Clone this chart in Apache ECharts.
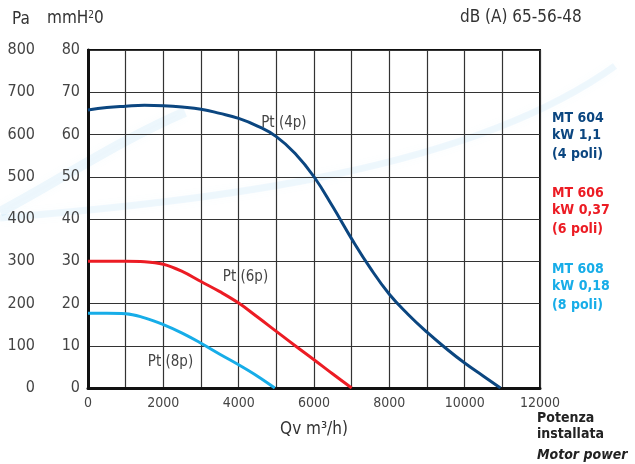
<!DOCTYPE html>
<html><head><meta charset="utf-8">
<script src="https://cdn.jsdelivr.net/npm/echarts@6/dist/echarts.min.js"></script>
<style>html,body{margin:0;padding:0;background:#fff}#c{width:635px;height:464px}</style>
</head><body><div id="c"></div>
<script>
const FONT = "'Liberation Sans Narrow','DejaVu Sans Condensed','Roboto',sans-serif";
const xTicks = [0, 2000, 4000, 6000, 8000, 10000, 12000];
const mmTicks = [0, 10, 20, 30, 40, 50, 60, 70, 80];
const paTicks = [0, 100, 200, 300, 400, 500, 600, 700, 800];

const q4p = [0,500,1000,1500,2000,2500,3000,3500,4000,4500,5000,5500,6000,6500,7000,7500,8000,8500,9000,9500,10000,10500,10950];
const p4p = [65.8,66.4,66.7,66.9,66.8,66.5,66.0,65.0,63.8,62.0,59.5,55.5,50.0,42.9,35.3,28.3,22.2,17.4,13.2,9.4,5.9,2.8,0];
const q6p = [0,500,1000,1500,2000,2500,3000,3500,4000,4500,5000,5500,6000,6500,7000];
const p6p = [30,30,30,29.9,29.3,27.6,25.2,22.8,20.1,16.8,13.4,10.0,6.7,3.3,0];
const q8p = [0,500,1000,1500,2000,2500,3000,3500,4000,4500,4960];
const p8p = [17.7,17.7,17.6,16.6,15.0,13.0,10.6,8.0,5.5,2.8,0];

const colors = {p4:'#0b4680', p6:'#ec1c24', p8:'#17ade8'};
const pairs = (xs, ys) => xs.map((x,i)=>[x, ys[i]]);

const chart = echarts.init(document.getElementById('c'), null, {renderer:'canvas'});
const txt = (t, x, y, o) => ({type:'text', left:x, top:y, style:Object.assign({text:t, font:'16px '+FONT, fill:'#333'}, o||{})});
const bold = (t, x, y, c, extra) => txt(t, x, y, Object.assign({font:'bold 14px '+FONT, fill:c}, extra||{}));
const ptLabel = t => ({show:true, formatter:t, fontFamily:FONT, fontSize:15, color:'#444', position:'inside'});

chart.setOption({
  animation:false,
  backgroundColor:'#fff',
  grid:{left:88, right:95, top:50, bottom:76, show:true, borderColor:'#111', borderWidth:2, backgroundColor:'transparent'},
  xAxis:{type:'value', min:0, max:12000, interval:1000,
    name:'Qv m\u00B3/h)', nameLocation:'middle', nameGap:33,
    nameTextStyle:{fontFamily:FONT, fontSize:17, color:'#333'},
    axisLine:{show:true, lineStyle:{color:'#111', width:3}},
    axisTick:{show:false},
    axisLabel:{fontFamily:FONT, fontSize:14, color:'#444', margin:8,
      formatter:v => xTicks.includes(v) ? String(v) : ''},
    splitLine:{show:true, lineStyle:{color:'#333', width:1.2}}},
  yAxis:[
    {type:'value', min:0, max:80, interval:10, position:'left',
     axisLine:{show:true, lineStyle:{color:'#111', width:3}}, axisTick:{show:false},
     axisLabel:{fontFamily:FONT, fontSize:16, color:'#444', margin:8,
       formatter:v => mmTicks.includes(v) ? String(v) : ''},
     splitLine:{show:true, lineStyle:{color:'#333', width:1.2}}},
    {type:'value', min:0, max:800, interval:100, position:'left', offset:45,
     axisLine:{show:false}, axisTick:{show:false}, splitLine:{show:false},
     axisLabel:{fontFamily:FONT, fontSize:16, color:'#444', margin:8,
       formatter:v => paTicks.includes(v) ? String(v) : ''}}
  ],
  series:[
    {type:'line', data:pairs(q4p,p4p), smooth:0.45, symbol:'none', z:5,
     lineStyle:{color:colors.p4, width:3},
     markPoint:{symbol:'rect', symbolSize:0, data:[{coord:[5200,62.7], label:ptLabel('Pt (4p)')}]}},
    {type:'line', data:pairs(q6p,p6p), smooth:0.4, symbol:'none', z:5,
     lineStyle:{color:colors.p6, width:3},
     markPoint:{symbol:'rect', symbolSize:0, data:[{coord:[4180,26.3], label:ptLabel('Pt (6p)')}]}},
    {type:'line', data:pairs(q8p,p8p), smooth:0.4, symbol:'none', z:5,
     lineStyle:{color:colors.p8, width:3},
     markPoint:{symbol:'rect', symbolSize:0, data:[{coord:[2190,6.2], label:ptLabel('Pt (8p)')}]}}
  ],
  graphic:[
    {type:'bezierCurve', z:-1, silent:true, shape:{x1:0,y1:218,x2:615,y2:66,cpx1:220,cpy1:200,cpx2:470,cpy2:170},
     style:{stroke:'rgba(140,200,238,0.13)', lineWidth:7, fill:null, shadowBlur:10, shadowColor:'rgba(140,200,238,0.3)'}},
    {type:'bezierCurve', z:-1, silent:true, shape:{x1:0,y1:212,x2:185,y2:112,cpx1:60,cpy1:180,cpx2:120,cpy2:140},
     style:{stroke:'rgba(140,200,238,0.13)', lineWidth:10, fill:null, shadowBlur:10, shadowColor:'rgba(140,200,238,0.3)'}},
    txt('Pa', 12, 11, {font:'17px '+FONT}),
    {type:'text', left:47, top:10, style:{text:'{a|mmH}{s|2}{a|0}', font:'17px '+FONT, fill:'#333',
      rich:{a:{fontFamily:FONT, fontSize:17, fill:'#333'}, s:{fontFamily:FONT, fontSize:10, fill:'#333', verticalAlign:'top', padding:[0,0,8,0]}}}},
    txt('dB (A) 65-56-48', 460, 9, {font:'17px '+FONT}),
    bold('MT 604', 552, 111, colors.p4), bold('kW 1,1', 552, 128, colors.p4), bold('(4 poli)', 552, 147, colors.p4),
    bold('MT 606', 552, 186, colors.p6), bold('kW 0,37', 552, 203, colors.p6), bold('(6 poli)', 552, 222, colors.p6),
    bold('MT 608', 552, 262, colors.p8), bold('kW 0,18', 552, 279, colors.p8), bold('(8 poli)', 552, 298, colors.p8),
    bold('Potenza', 537, 411, '#222'), bold('installata', 537, 427, '#222'),
    bold('Motor power', 537, 448, '#222', {font:'italic bold 14px '+FONT})
  ]
});
</script></body></html>
